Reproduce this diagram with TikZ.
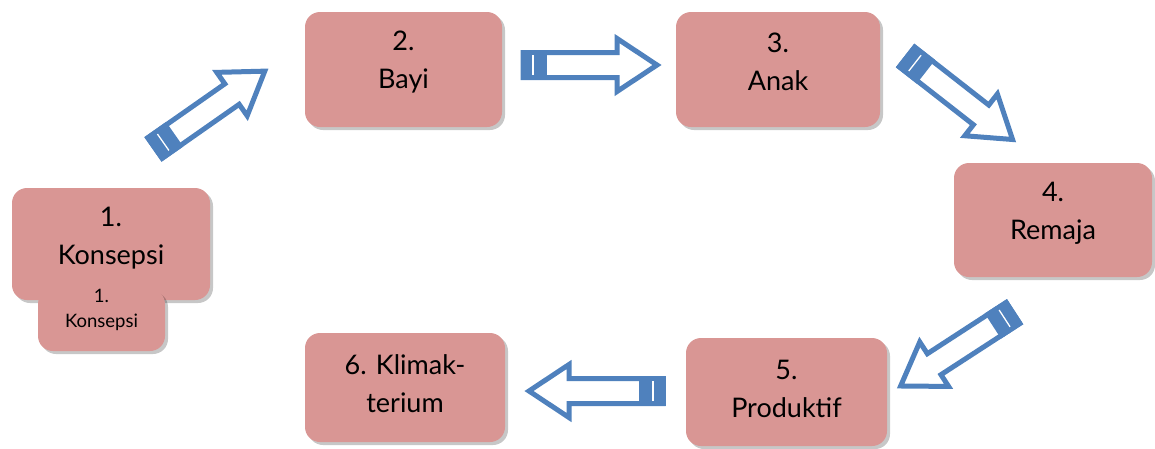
\documentclass[tikz,border=0pt]{standalone}
\usepackage{fontspec}
\setmainfont{Lato}
\usetikzlibrary{shadows}
\definecolor{boxpink}{HTML}{D99694}
\definecolor{arrblue}{HTML}{4F81BD}
\tikzset{
  box/.style={draw=none, fill=boxpink, rounded corners=15pt, inner sep=0pt,
    drop shadow={shadow xshift=3pt, shadow yshift=-3pt, fill=black, opacity=0.22}},
  bigtxt/.style={align=center, font=\fontsize{27}{38}\selectfont, inner sep=0pt},
  smalltxt/.style={align=center, font=\fontsize{18.5}{25}\selectfont, inner sep=0pt},
  arrowline/.style={draw=arrblue, fill=white, line width=5pt, line join=miter},
  blockarrow/.pic={
    \draw[arrowline] (0,-12.5) -- (94,-12.5) -- (94,-26.5) -- (134,0) -- (94,26.5) -- (94,12.5) -- (0,12.5) -- cycle;
    \fill[arrblue] (-2.5,-15) rectangle (24,15);
    \draw[white, line width=1.3pt] (10,-10) -- (10,10);
  }
}
\begin{document}
\begin{tikzpicture}[x=1pt, y=-1pt]
\useasboundingbox (0,0) rectangle (1155,448);
% boxes
\node[box, minimum width=198pt, minimum height=112pt] (b1) at (111,244) {};
\node[bigtxt] (t1) at (111,238) {1.\\Konsepsi};
\node[box, minimum width=127pt, minimum height=62pt] (s1) at (101.5,320) {};
\node[smalltxt] (ts1) at (101.5,310) {1.\\Konsepsi};
\node[box, minimum width=197pt, minimum height=115pt] (b2) at (403.5,69.5) {};
\node[bigtxt] (t2) at (403.5,62) {2.\\Bayi};
\node[box, minimum width=204pt, minimum height=115pt] (b3) at (778,69.5) {};
\node[bigtxt] (t3) at (778,62) {3.\\Anak};
\node[box, minimum width=198pt, minimum height=114pt] (b4) at (1053,220) {};
\node[bigtxt] (t4) at (1053,213) {4.\\Remaja};
\node[box, minimum width=201pt, minimum height=108pt] (b5) at (786.5,392) {};
\node[bigtxt] (t5) at (786.5,389) {5.\\Produktif};
\node[box, minimum width=200pt, minimum height=109pt] (b6) at (405,387.5) {};
\node[bigtxt] (t6) at (405,384) {6. Klimak-\\terium};
% arrows
\coordinate (a1) at (155,148);
\coordinate (a2) at (523,65);
\coordinate (a3) at (907,57);
\coordinate (a4) at (1013,313);
\coordinate (a5) at (663,391);
\pic[rotate=35] at (a1) {blockarrow};
\pic[rotate=0] at (a2) {blockarrow};
\pic[rotate=-38] at (a3) {blockarrow};
\pic[rotate=213] at (a4) {blockarrow};
\pic[rotate=180] at (a5) {blockarrow};
\end{tikzpicture}
\end{document}
